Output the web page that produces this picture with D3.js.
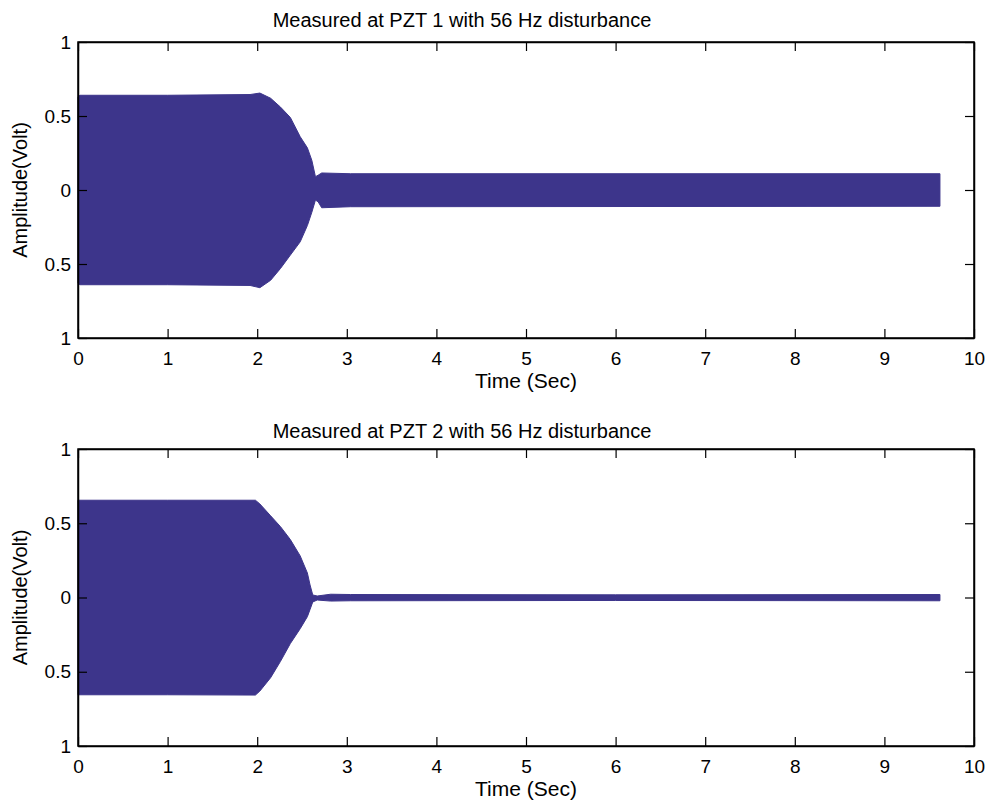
<!DOCTYPE html>
<html>
<head>
<meta charset="utf-8">
<script src="https://cdn.jsdelivr.net/npm/d3@7"></script>
<style>
  body { margin: 0; background: #fff; }
  text { font-family: "Liberation Sans", Arial, sans-serif; fill: #000; }
</style>
</head>
<body>
<div id="chart"></div>
<script>
const width = 988, height = 803;

// envelope of the measured signal (time in s, volts)
const timeTop  = [0, 0.02, 1.0, 1.92, 2.03, 2.15, 2.26, 2.37, 2.48, 2.56, 2.61, 2.65, 2.68, 2.72, 3.04, 9.62];
const upperTop = [0.63, 0.64, 0.64, 0.645, 0.655, 0.62, 0.56, 0.49, 0.36, 0.285, 0.2, 0.09, 0.10, 0.115, 0.11, 0.11];
const lowerTop = [-0.63, -0.64, -0.64, -0.645, -0.66, -0.61, -0.53, -0.44, -0.35, -0.24, -0.15, -0.068, -0.08, -0.12, -0.113, -0.11];

const timeBottom  = [0, 1.0, 1.98, 2.03, 2.15, 2.26, 2.37, 2.48, 2.56, 2.59, 2.62, 2.67, 2.82, 3.04, 6.0, 9.62];
const upperBottom = [0.655, 0.655, 0.655, 0.63, 0.55, 0.477, 0.39, 0.28, 0.165, 0.084, 0.017, 0.01, 0.022, 0.02, 0.018, 0.02];
const lowerBottom = [-0.655, -0.655, -0.657, -0.63, -0.54, -0.43, -0.31, -0.21, -0.129, -0.08, -0.03, -0.017, -0.024, -0.022, -0.02, -0.022];

const xTicks = [0, 1, 2, 3, 4, 5, 6, 7, 8, 9, 10];
const yTicks = [1, 0.5, 0, -0.5, -1];
const yTickLabels = ["1", "0.5", "0", "0.5", "1"];

const titles = ["Measured at PZT 1 with 56 Hz disturbance", "Measured at PZT 2 with 56 Hz disturbance"];

const panels = [
  { top: 42,  bottom: 338, t: timeTop, up: upperTop, lo: lowerTop },
  { top: 449, bottom: 746, t: timeBottom, up: upperBottom, lo: lowerBottom }
];

const left = 78, right = 974;
const lineColor = "#3d358b";

const svg = d3.select("#chart").append("svg")
    .attr("width", width)
    .attr("height", height);

panels.forEach((p, i) => {
  const x = d3.scaleLinear().domain([0, 10]).range([left, right]);
  const y = d3.scaleLinear().domain([-1, 1]).range([p.bottom, p.top]);
  const g = svg.append("g");

  // the 56 Hz trace is too dense to resolve, so draw its envelope as a band
  const band = d3.area()
      .x((d, k) => x(p.t[k]))
      .y0((d, k) => y(p.lo[k]))
      .y1((d, k) => y(p.up[k]));

  g.append("path")
      .datum(p.t)
      .attr("d", band)
      .attr("fill", lineColor)
      .attr("stroke", lineColor)
      .attr("stroke-width", 1);

  // axes, ticks pointing inward on all four sides
  const tl = 9;
  g.append("g")
      .attr("transform", `translate(0,${p.bottom})`)
      .call(d3.axisBottom(x).tickValues(xTicks).tickSize(-tl).tickPadding(tl + 5).tickSizeOuter(0));
  g.append("g")
      .attr("transform", `translate(0,${p.top})`)
      .call(d3.axisTop(x).tickValues(xTicks).tickSize(-tl).tickFormat("").tickSizeOuter(0));
  g.append("g")
      .attr("transform", `translate(${left},0)`)
      .call(d3.axisLeft(y).tickValues(yTicks).tickSize(-tl).tickPadding(7)
        .tickFormat((d, k) => yTickLabels[k]).tickSizeOuter(0));
  g.append("g")
      .attr("transform", `translate(${right},0)`)
      .call(d3.axisRight(y).tickValues(yTicks).tickSize(-tl).tickFormat("").tickSizeOuter(0));

  g.selectAll(".domain").attr("stroke", "#000").attr("stroke-width", 1.5);
  g.selectAll(".tick line").attr("stroke", "#000").attr("stroke-width", 1.2);
  g.selectAll(".tick text")
      .style("font-family", '"Liberation Sans", Arial, sans-serif')
      .style("font-size", "19px")
      .attr("fill", "#000");

  // box
  g.append("rect")
      .attr("x", left).attr("y", p.top)
      .attr("width", right - left).attr("height", p.bottom - p.top)
      .attr("fill", "none").attr("stroke", "#000").attr("stroke-width", 1.5);

  g.append("text")
      .attr("x", 462).attr("y", p.top - (i === 0 ? 15 : 11))
      .attr("text-anchor", "middle")
      .style("font-size", "20px")
      .text(titles[i]);

  g.append("text")
      .attr("x", (left + right) / 2).attr("y", p.bottom + 50)
      .attr("text-anchor", "middle")
      .style("font-size", "21px")
      .text("Time (Sec)");

  g.append("text")
      .attr("transform", `translate(27,${(p.top + p.bottom) / 2}) rotate(-90)`)
      .attr("text-anchor", "middle")
      .style("font-size", "20px")
      .text("Amplitude(Volt)");
});
</script>
</body>
</html>
